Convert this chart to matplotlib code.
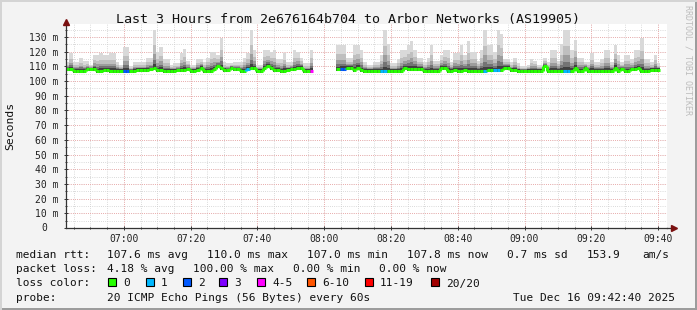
import numpy as np
import matplotlib
matplotlib.use("Agg")
import matplotlib.pyplot as plt
from matplotlib.collections import LineCollection
from matplotlib.patches import Rectangle
import matplotlib.transforms as mtransforms

nan = np.nan

# one sample per minute, starting 06:42:40
# top of the smoke (slowest ping), ms
smoke_top = [
    113, 119, 113, 113, 115.5, 113.7, 113.7, 111, 118, 118,
    119, 118, 118, 119, 119, 113, 111, 123.4, 123.4, 110,
    113, 113, 113, 113, 116, 116, 135, 120, 123, 115,
    115, 111, 112, 112, 119, 122, 114, 111, 111, 115,
    115, 113, 116, 120, 120, 118, 129, 113, 112, 112,
    113, 113, 113, 116, 119, 135, 121, 111, 111, 121,
    121, 120, 121, 115, 115, 119, 113, 113, 121, 120,
    116, 112, 112, 121, nan, nan, nan, nan, nan, nan,
    nan, 124.6, 124.6, 124.6, 115.5, 115.5, 124.6, 124.6, 121, 113,
    111, 111, 113, 113, 118, 135, 125, 112, 112, 115,
    121, 121, 124.6, 127, 121, 116, 116, 113, 116, 124.6,
    114, 114, 118, 121, 121, 113, 119, 119, 124.6, 118,
    127, 120, 120, 114, 121, 135, 124.6, 124.6, 120, 135,
    132, 115, 115, 113, 116, 112, 110, 110, 111, 115,
    114, 111, 111, 116, 113, 121, 121, 114, 125, 135,
    135, 121, 128, 116, 116, 113, 113, 119, 113, 113,
    115, 121, 121, 113, 124.6, 118, 113, 118, 118, 115,
    121, 121, 129, 115, 115, 113, 118, 112, nan, nan,
]

# median rtt, ms
median_rtt = [
    108, 108, 107.1, 107.1, 107.1, 107.1, 108, 108, 108, 107.1,
    107.1, 107.6, 107.6, 107.1, 107.1, 107.1, 107.1, 107.1, 107.1, 107.1,
    107.1, 107.6, 107.6, 107.6, 107.6, 108, 109, 107.6, 107.6, 107.1,
    107.1, 107.1, 107.1, 107.6, 107.6, 107.6, 108.2, 107.1, 107.1, 107.6,
    109, 107.1, 107.1, 107.1, 108.2, 110, 109, 107.6, 107.6, 109,
    108, 108, 107.1, 107.1, 108, 109, 109, 107.1, 107.1, 109,
    110, 109, 107.6, 107.6, 107.1, 107.1, 107.6, 108, 108, 109,
    109, 107.1, 107.1, 107.1, nan, nan, nan, nan, nan, nan,
    nan, 108, 108.2, 108.2, 109, 109, 107.6, 109, 107.6, 107.1,
    107.1, 107.1, 107.1, 107.1, 107.1, 107.1, 107.1, 107.1, 107.1, 107.1,
    107.1, 109, 108.5, 108.5, 108.5, 108.5, 108.5, 107.1, 107.1, 107.1,
    107.1, 107.1, 109, 109, 107.1, 107.1, 107.6, 107.1, 107.1, 107.6,
    107.1, 107.1, 107.1, 107.1, 107.1, 107.1, 107.6, 107.6, 107.6, 107.6,
    107.6, 109, 109, 107.6, 107.6, 107.1, 107.1, 107.1, 107.1, 107.1,
    107.1, 107.1, 107.1, 110, 107.1, 107.1, 107.1, 107.1, 107.1, 107.1,
    107.1, 107.1, 109, 107.1, 107.1, 109, 107.1, 107.1, 107.1, 107.1,
    107.1, 107.1, 107.1, 107.1, 109, 107.1, 108, 107.1, 107.1, 108,
    108, 109, 107.1, 107.1, 107.1, 107.6, 107.6, 107.8, nan, nan,
]

# lost pings out of 20 (only the minutes with loss)
loss_minute = [17, 18, 54, 73, 82, 83, 94, 95, 125, 128, 129, 149, 150]
loss_count = [2, 2, 1, 4, 2, 2, 1, 1, 1, 1, 1, 1, 1]

loss_labels = ["0", "1", "2", "3", "4-5", "6-10", "11-19", "20/20"]
loss_limits = [0, 1, 2, 3, 5, 10, 19, 20]
loss_colors = ["#26ff00", "#00b8ff", "#0059ff", "#7e00ff",
               "#ff00ff", "#ff5500", "#ff0000", "#a10000"]

time_labels = ["07:00", "07:20", "07:40", "08:00", "08:20", "08:40",
               "09:00", "09:20", "09:40"]
start_offset = 17 + 20 / 60.0  # 06:42:40 -> 07:00 in minutes

W, H = 697, 310
MONO = "DejaVu Sans Mono"
plt.rcParams["font.family"] = MONO

fig = plt.figure(figsize=(W / 100, H / 100), dpi=100)
fig.patch.set_facecolor("#f3f3f3")

def fx(px):
    return px / W

def fy(py):
    return 1 - py / H

# 3D-ish frame
fig.patches.append(Rectangle((0, 0), 1, fy(H - 2), transform=fig.transFigure,
                             facecolor="#9c9c9c", edgecolor="none", zorder=0))
fig.patches.append(Rectangle((fx(W - 2), 0), fx(2), 1, transform=fig.transFigure,
                             facecolor="#9c9c9c", edgecolor="none", zorder=0))
fig.patches.append(Rectangle((0, fy(2)), 1, fx(2) * W / H, transform=fig.transFigure,
                             facecolor="#d4d4d4", edgecolor="none", zorder=0))
fig.patches.append(Rectangle((0, 0), fx(2), 1, transform=fig.transFigure,
                             facecolor="#d4d4d4", edgecolor="none", zorder=0))

ax = fig.add_axes([fx(66), fy(228), fx(667 - 66), (228 - 24) / H])
ax.set_facecolor("white")
ax.set_xlim(0, 180)
ax.set_ylim(0, (228 - 24) / 1.469)

top = np.array(smoke_top, dtype=float)
med = np.array(median_rtt, dtype=float)
minutes = np.arange(len(top))
ok = ~np.isnan(top)

# grid (under the smoke)
dots = (0, (0.72, 1.44))
minor_x = np.arange(start_offset - 15, 180, 5)
major_x = start_offset + 20 * np.arange(len(time_labels))
for x in minor_x:
    ax.axvline(x, color="#cfcfcf", lw=0.72, ls=dots, zorder=1)
for y in np.arange(5, 140, 5):
    ax.axhline(y, color="#cfcfcf", lw=0.72, ls=dots, zorder=1)
for x in major_x:
    ax.axvline(x, color="#f0a0a0", lw=0.72, ls=dots, zorder=1)
for y in np.arange(10, 140, 10):
    ax.axhline(y, color="#f0a0a0", lw=0.72, ls=dots, zorder=1)

# smoke: light outer band, darker towards the median
base = med - 1.3
fracs = [1.0, 0.6, 0.36, 0.2, 0.08]
shades = ["#d9d9d9", "#bfbfbf", "#9d9d9d", "#747474", "#404040"]
for f, c in zip(fracs, shades):
    upper = med + 0.6 + f * (top - med - 0.6)
    ax.bar(minutes[ok], (upper - base)[ok], bottom=base[ok], width=1.0,
           align="edge", color=c, linewidth=0, zorder=2)

# median line coloured by loss
loss = np.zeros(len(top))
loss[loss_minute] = loss_count

def loss_color(n):
    for lim, c in zip(loss_limits, loss_colors):
        if n <= lim:
            return c
    return loss_colors[-1]

segs, cols = [], []
for i in minutes[ok]:
    c = loss_color(loss[i])
    segs.append([(i, med[i]), (i + 1, med[i])])
    cols.append(c)
    if i + 1 < len(med) and not np.isnan(med[i + 1]):
        segs.append([(i + 1, med[i]), (i + 1, med[i + 1])])
        cols.append(loss_color(loss[i + 1]))
ax.add_collection(LineCollection(segs, colors=cols, linewidths=2.2,
                                 capstyle="butt", zorder=5))

# axes
for s in ["top", "right"]:
    ax.spines[s].set_visible(False)
for s in ["left", "bottom"]:
    ax.spines[s].set_color("#333333")
    ax.spines[s].set_linewidth(0.9)
    ax.spines[s].set_zorder(6)
ax.plot([1.0, 1.01], [0, 0], color="#333333", lw=0.9, transform=ax.transAxes,
        clip_on=False, zorder=6)
ax.plot([1.012], [0], marker=">", ms=4, color="#7a1010", transform=ax.transAxes,
        clip_on=False, zorder=7)
ax.plot([0], [1.01], marker="^", ms=4, color="#7a1010", transform=ax.transAxes,
        clip_on=False, zorder=7)

ax.set_xticks(major_x)
ax.set_xticklabels(time_labels, fontsize=7, color="#222222")
ax.set_xticks(minor_x, minor=True)
yt = np.arange(0, 131, 10)
ax.set_yticks(yt)
ax.set_yticklabels([f"{v} m" if v else "" for v in yt], fontsize=7, color="#222222")
ax.set_yticks(np.arange(5, 136, 10), minor=True)
ax.tick_params(axis="both", which="major", length=3, width=0.7, direction="inout",
               color="#333333")
ax.tick_params(axis="both", which="minor", length=2, width=0.7, direction="inout",
               color="#333333")
ax.tick_params(axis="x", which="major", pad=3)
ax.tick_params(axis="y", which="major", pad=4)
zero_tr = mtransforms.offset_copy(ax.get_yaxis_transform(), fig=fig, x=-19 * 0.72, units="points")
ax.text(0, 0, "0", transform=zero_tr, ha="right", va="center", fontsize=7, color="#222222")

# titles and side text
fig.text(0.5, fy(19.5), "Last 3 Hours from 2e676164b704 to Arbor Networks (AS19905)",
         ha="center", va="center", fontsize=9.6, color="#111111")
fig.text(fx(10.5), fy(126), "Seconds", rotation=90, ha="center", va="center",
         fontsize=8.2, color="#111111")
fig.text(fx(688), fy(60), "RRDTOOL / TOBI OETIKER", rotation=270, ha="center",
         va="center", fontsize=6, color="#bdbdbd")

# legend rows
def row(y, items):
    for x, s in items:
        fig.text(fx(x), fy(y), s, ha="left", va="baseline", fontsize=8, color="#111111")

row(258, [(16, "median rtt:"), (107, "107.6 ms avg"), (207, "110.0 ms max"),
          (307, "107.0 ms min"), (407, "107.8 ms now"), (507, "0.7 ms sd"),
          (587, "153.9"), (642, "am/s")])
row(272.3, [(16, "packet loss:"), (107, "4.18 % avg"), (193, "100.00 % max"),
            (293, "0.00 % min"), (379, "0.00 % now")])
row(286.5, [(16, "loss color:")])
box_x = [108, 146, 183, 219, 257, 307, 365, 431]
for bx, c, lab in zip(box_x, loss_colors, loss_labels):
    fig.patches.append(Rectangle((fx(bx), fy(286)), fx(8), 8 / H, transform=fig.transFigure,
                                 facecolor=c, edgecolor="black", linewidth=0.8, zorder=3))
    fig.text(fx(bx + 15), fy(286.5), lab, ha="left", va="baseline", fontsize=8, color="#111111")
row(300.6, [(16, "probe:"), (107, "20 ICMP Echo Pings (56 Bytes) every 60s"),
            (513, "Tue Dec 16 09:42:40 2025")])

fig.savefig("out.png", dpi=100, facecolor=fig.get_facecolor())
